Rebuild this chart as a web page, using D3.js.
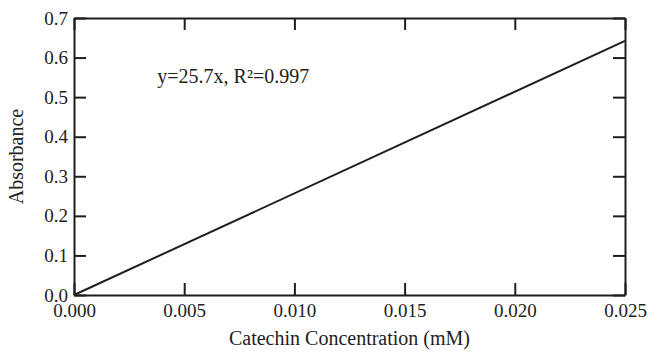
<!DOCTYPE html>
<html>
<head>
<meta charset="utf-8">
<script src="https://cdn.jsdelivr.net/npm/d3@7"></script>
<style>
  body { margin: 0; background: #fff; }
  text { font-family: "Liberation Serif", "Times New Roman", serif; fill: #222; }
</style>
</head>
<body>
<script>
// data
var xTicks = [0.000, 0.005, 0.010, 0.015, 0.020, 0.025];
var yTicks = [0.0, 0.1, 0.2, 0.3, 0.4, 0.5, 0.6, 0.7];
var fitConc = [0.000, 0.025];
var fitAbs = [0.000, 0.642];
var eqLabel = "y=25.7x, R\u00B2=0.997";
var xTitle = "Catechin Concentration (mM)";
var yTitle = "Absorbance";

var margin = {top: 18, right: 42, bottom: 59, left: 74};
var width = 667 - margin.left - margin.right;
var height = 354 - margin.top - margin.bottom;
var ink = "#1e1e1e";
var serif = '"Liberation Serif", "Times New Roman", serif';

var svg = d3.select("body").append("svg")
  .attr("width", 667)
  .attr("height", 354)
  .append("g")
  .attr("transform", "translate(" + margin.left + "," + margin.top + ")");

var x = d3.scaleLinear().domain([0, 0.025]).range([0, width]);
var y = d3.scaleLinear().domain([0, 0.7]).range([height, 0]);

// ticks point inwards on all four sides
var axisB = svg.append("g")
  .attr("transform", "translate(0," + height + ")")
  .call(d3.axisBottom(x).tickValues(xTicks).tickFormat(d3.format(".3f"))
    .tickSizeInner(-12).tickSizeOuter(0).tickPadding(7));
var axisT = svg.append("g")
  .call(d3.axisTop(x).tickValues(xTicks).tickFormat("")
    .tickSizeInner(-12).tickSizeOuter(0));
var axisL = svg.append("g")
  .call(d3.axisLeft(y).tickValues(yTicks).tickFormat(d3.format(".1f"))
    .tickSizeInner(-12).tickSizeOuter(0).tickPadding(6));
var axisR = svg.append("g")
  .attr("transform", "translate(" + width + ",0)")
  .call(d3.axisRight(y).tickValues(yTicks).tickFormat("")
    .tickSizeInner(-12).tickSizeOuter(0));

[axisB, axisT, axisL, axisR].forEach(function (g) {
  g.selectAll("path, line").attr("stroke", ink).attr("stroke-width", 2);
  g.selectAll("text")
    .style("font-family", serif)
    .style("font-size", "19px")
    .attr("fill", ink);
});
axisB.selectAll("text").attr("dy", "0.78em");

// fitted line
var fit = fitConc.map(function (c, i) { return {c: c, a: fitAbs[i]}; });
svg.append("path")
  .datum(fit)
  .attr("fill", "none")
  .attr("stroke", ink)
  .attr("stroke-width", 2)
  .attr("d", d3.line()
    .x(function (d) { return x(d.c); })
    .y(function (d) { return y(d.a); }));

// equation label
svg.append("text")
  .attr("x", x(0.00378))
  .attr("y", y(0.536))
  .style("font-family", serif)
  .style("font-size", "20px")
  .text(eqLabel);

// axis titles
svg.append("text")
  .attr("x", width / 2)
  .attr("y", height + 50)
  .attr("text-anchor", "middle")
  .style("font-family", serif)
  .style("font-size", "20px")
  .text(xTitle);

svg.append("text")
  .attr("transform", "translate(-51," + height / 2 + ") rotate(-90)")
  .attr("text-anchor", "middle")
  .style("font-family", serif)
  .style("font-size", "20px")
  .text(yTitle);
</script>
</body>
</html>
